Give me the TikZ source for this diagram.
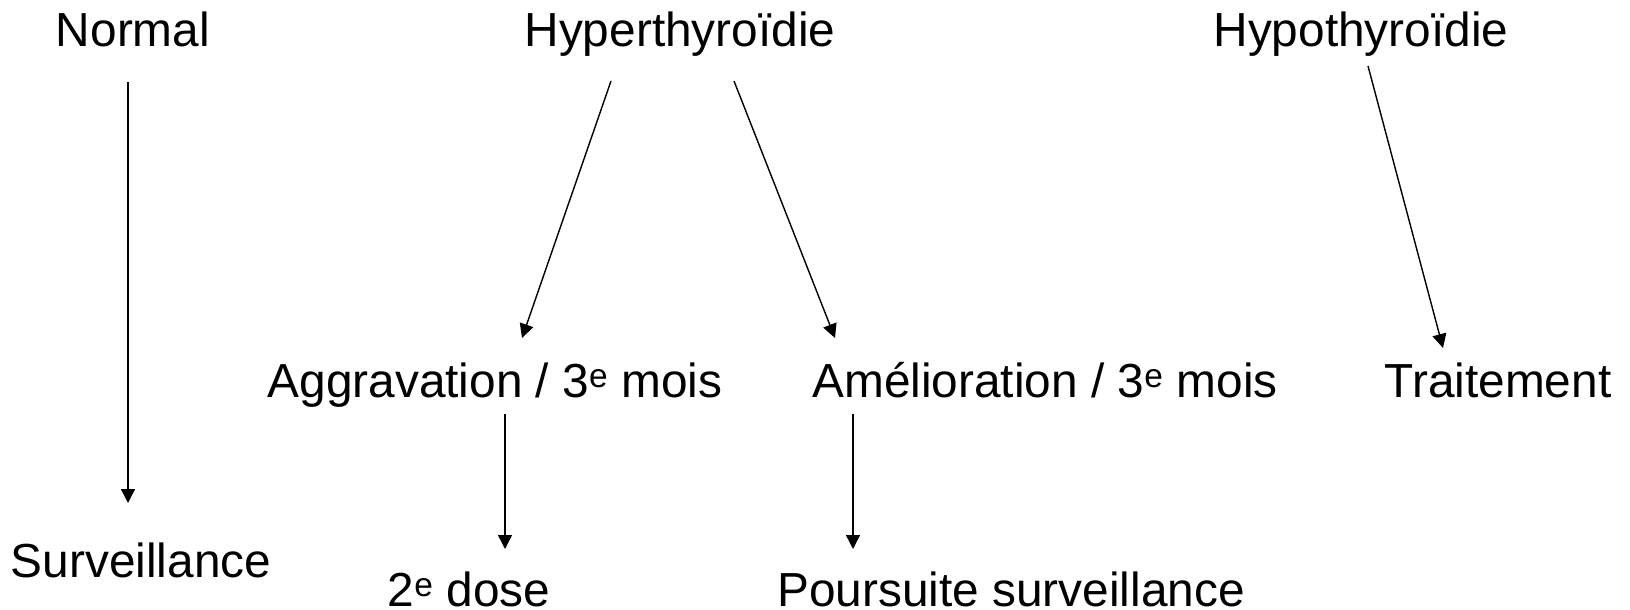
\documentclass[tikz,border=0pt]{standalone}
\usepackage{fontspec}
\setmainfont{Liberation Sans}
\usetikzlibrary{arrows.meta}

\begin{document}
\begin{tikzpicture}[x=1pt,y=-1pt,>={Triangle[length=14pt,width=14pt]},
  lbl/.style={anchor=base,inner sep=0pt,font=\fontsize{47.8}{57}\selectfont},
  arr/.style={->,line width=1.4pt}]
\useasboundingbox (0,0) rectangle (1630,610);
% top row
\node[lbl] (normal) at (133,47) {Normal};
\node[lbl] (hyper) at (680,47) {Hyperthyroïdie};
\node[lbl] (hypo) at (1361,47) {Hypothyroïdie};
% middle row
\node[lbl] (aggr) at (495,397) {Aggravation / 3\textsuperscript{e} mois};
\node[lbl] (amel) at (1045,397) {Amélioration / 3\textsuperscript{e} mois};
\node[lbl] (trait) at (1498,397) {Traitement};
% bottom row
\node[lbl] (surv) at (141,577) {Surveillance};
\node[lbl] (dose) at (469,606) {2\textsuperscript{e} dose};
\node[lbl] (pours) at (1011,606) {Poursuite surveillance};
% arrows
\draw[arr] ([shift={(-5,35)}]normal.base) -- ([shift={(-13,-74)}]surv.base);
\draw[arr] ([shift={(-69,34)}]hyper.base) -- ([shift={(27,-59)}]aggr.base);
\draw[arr] ([shift={(54,34)}]hyper.base) -- ([shift={(-210,-59)}]amel.base);
\draw[arr] ([shift={(7,19)}]hypo.base) -- ([shift={(-55,-49)}]trait.base);
\draw[arr] ([shift={(10,17)}]aggr.base) -- ([shift={(36,-57)}]dose.base);
\draw[arr] ([shift={(-192,17)}]amel.base) -- ([shift={(-158,-57)}]pours.base);
\end{tikzpicture}
\end{document}
